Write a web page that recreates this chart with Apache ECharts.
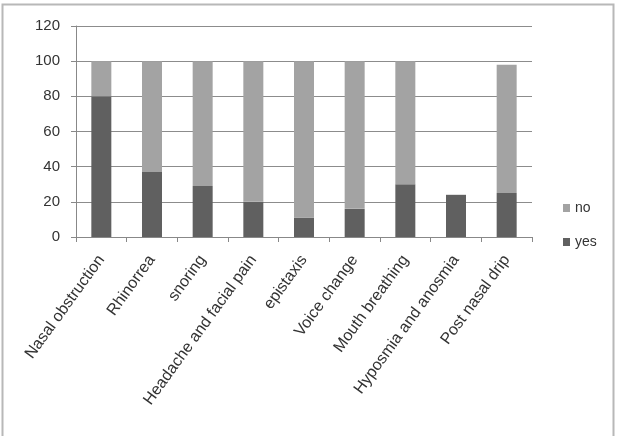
<!DOCTYPE html>
<html><head><meta charset="utf-8">
<script src="https://cdn.jsdelivr.net/npm/echarts@6/dist/echarts.min.js"></script>
<style>html,body{margin:0;padding:0;background:#fff}#c{width:617px;height:436px}</style>
</head><body><div id="c"></div>
<script>
const categories = ["Nasal obstruction","Rhinorrea","snoring","Headache and facial pain","epistaxis","Voice change","Mouth breathing","Hyposmia and anosmia","Post nasal drip"];
const yesValues = [80, 37, 29, 20, 11, 16, 30, 24, 25];
const noValues = [20, 63, 71, 80, 89, 84, 70, 0, 73];
const yTicks = [0, 20, 40, 60, 80, 100, 120];

const chart = echarts.init(document.getElementById('c'), null, {renderer:'canvas'});
const font = '"Liberation Sans", Arial, sans-serif';
chart.setOption({
  animation: false,
  backgroundColor: '#fff',
  graphic: [{type:'rect', shape:{x:2.5,y:4.5,width:611,height:440}, style:{fill:'none', stroke:'#b8b8b8', lineWidth:2}}],
  grid: {left:76, right:85, top:26, bottom:199, containLabel:false},
  legend: {
    orient:'vertical', left:558, top:196, itemGap:20, itemWidth:7, itemHeight:8,
    icon:'rect', data:['no','yes'],
    textStyle:{fontFamily:font, fontSize:14, color:'#333'}
  },
  xAxis: {
    type:'category', data:categories,
    axisLine:{lineStyle:{color:'#888', width:1}},
    axisTick:{show:true, length:5, lineStyle:{color:'#888'}},
    axisLabel:{rotate:54, interval:0, fontFamily:font, fontSize:16, color:'#333', margin:20}
  },
  yAxis: {
    type:'value', min:yTicks[0], max:yTicks[yTicks.length-1], interval:20,
    axisLine:{show:true, lineStyle:{color:'#888'}},
    axisTick:{show:true, length:5, lineStyle:{color:'#888'}},
    splitLine:{lineStyle:{color:'#8c8c8c'}},
    axisLabel:{fontFamily:font, fontSize:15, color:'#333', margin:16}
  },
  series: [
    {name:'yes', type:'bar', stack:'s', data:yesValues, barWidth:20, itemStyle:{color:'#606060'}},
    {name:'no', type:'bar', stack:'s', data:noValues, barWidth:20, itemStyle:{color:'#a3a3a3'}}
  ]
});
</script></body></html>
